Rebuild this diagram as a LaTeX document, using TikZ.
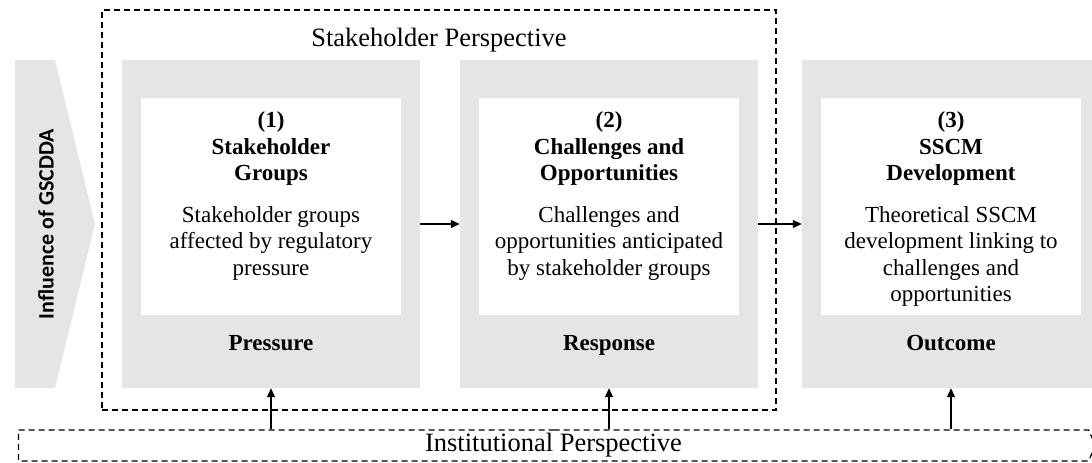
\documentclass[tikz,border=0pt]{standalone}
\usepackage{fontspec}
\setmainfont{Liberation Serif}
\newfontfamily\gsfont{Carlito}
\usepackage{tikz}
\usetikzlibrary{arrows.meta, positioning, shapes.symbols}

\begin{document}
\begin{tikzpicture}[
    x=1pt, y=-1pt,
    font=\fontsize{23}{26.5}\selectfont,
    >={Triangle[length=9pt, width=8pt]},
    panel/.style={fill=black!10, minimum width=298pt, minimum height=328pt, inner sep=0pt},
    card/.style={fill=white, minimum width=260pt, minimum height=217pt, inner sep=0pt},
    head/.style={font=\fontsize{23}{26.5}\selectfont\bfseries, align=center, inner sep=0pt},
    body/.style={align=center, inner sep=0pt},
    foot/.style={font=\fontsize{23}{26.5}\selectfont\bfseries, text height=15pt, text depth=5pt, inner sep=0pt},
    title/.style={font=\fontsize{26.5}{30}\selectfont},
    persp/.style={draw, line width=1.2pt, dash pattern=on 6pt off 4pt},
    arrow/.style={->, line width=1.1pt}
]
\useasboundingbox (0,0) rectangle (1092,463);
\clip (0,0) rectangle (1092,463);

% GSCDDA chevron
\fill[black!10] (15,60) -- (55,60) -- (95,224) -- (55,388) -- (15,388) -- cycle;
\node[rotate=90, font=\fontsize{22}{26}\selectfont\gsfont\bfseries] (gsclabel) at (46,224) {Influence of GSCDDA};

% Stakeholder perspective frame
\node[persp, minimum width=674pt, minimum height=400pt] (stake) at (439,210) {};
\node[title] (staketitle) at (439,40) {Stakeholder Perspective};

% Panels
\node[panel] (p1) at (271,224) {};
\node[panel] (p2) at (609,224) {};
\node[panel] (p3) at (951,224) {};

\node[card, below=38pt of p1.north] (c1) {};
\node[card, below=38pt of p2.north] (c2) {};
\node[card, below=38pt of p3.north] (c3) {};

\node[head, below=14pt of c1.north] (h1) {(1)\\Stakeholder\\Groups};
\node[head, below=14pt of c2.north] (h2) {(2)\\Challenges and\\Opportunities};
\node[head, below=14pt of c3.north] (h3) {(3)\\SSCM\\Development};

\node[body, below=20pt of h1] (b1) {Stakeholder groups\\affected by regulatory\\pressure};
\node[body, below=20pt of h2] (b2) {Challenges and\\opportunities anticipated\\by stakeholder groups};
\node[body, below=20pt of h3] (b3) {Theoretical SSCM\\development linking to\\challenges and\\opportunities};

\node[foot, above=33pt of p1.south] (f1) {Pressure};
\node[foot, above=33pt of p2.south] (f2) {Response};
\node[foot, above=33pt of p3.south] (f3) {Outcome};

% Institutional perspective band
\node[persp, signal, signal to=east, signal pointer angle=131, inner sep=0pt,
      minimum width=1077pt, minimum height=31pt, title] (inst) at (553.5,445.5) {Institutional Perspective};

% Arrows
\draw[arrow] (p1) -- (p2);
\draw[arrow] (p2) -- (p3);
\draw[arrow] (inst.north -| p1.south) -- (p1.south);
\draw[arrow] (inst.north -| p2.south) -- (p2.south);
\draw[arrow] (inst.north -| p3.south) -- (p3.south);

\end{tikzpicture}
\end{document}
